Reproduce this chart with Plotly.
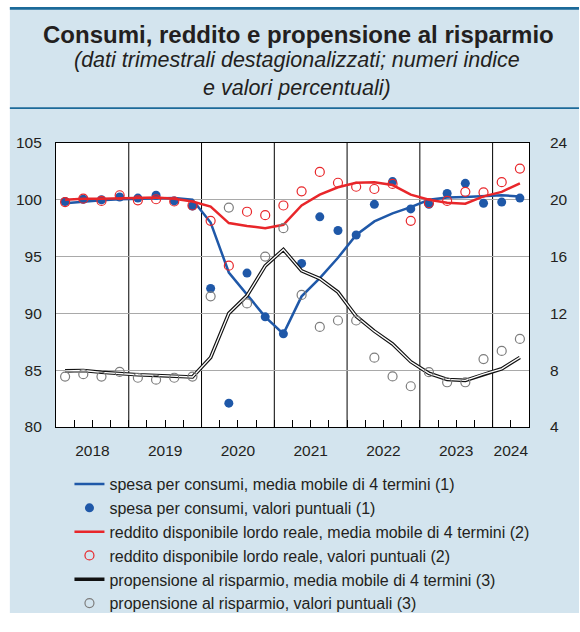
import plotly.graph_objects as go

# ---------------- data ----------------
quarters = ["2018Q1", "2018Q2", "2018Q3", "2018Q4",
            "2019Q1", "2019Q2", "2019Q3", "2019Q4",
            "2020Q1", "2020Q2", "2020Q3", "2020Q4",
            "2021Q1", "2021Q2", "2021Q3", "2021Q4",
            "2022Q1", "2022Q2", "2022Q3", "2022Q4",
            "2023Q1", "2023Q2", "2023Q3", "2023Q4",
            "2024Q1", "2024Q2"]

spesa_media_mobile = [99.7, 99.85, 99.95, 100.05, 100.1, 100.15, 100.15, 100.0,
                      98.0, 93.6, 91.7, 89.7, 88.2, 91.5, 93.1, 94.9,
                      96.9, 98.1, 98.8, 99.35, 100.0, 100.2, 100.25, 100.3,
                      100.4, 100.3]
spesa_puntuali = [99.85, 100.05, 100.0, 100.25, 100.15, 100.4, 99.9, 99.45,
                  92.2, 82.1, 93.55, 89.7, 88.2, 94.4, 98.5, 97.3,
                  96.9, 99.6, 101.6, 99.2, 99.6, 100.55, 101.45, 99.7,
                  99.8, 100.15]
reddito_media_mobile = [100.0, 100.1, 100.1, 100.15, 100.15, 100.2, 100.1, 99.85,
                        99.4, 97.95, 97.7, 97.5, 97.8, 99.5, 100.45, 101.1,
                        101.5, 101.55, 101.3, 100.45, 100.0, 99.75, 99.65, 100.3,
                        100.7, 101.45]
reddito_puntuali = [99.8, 100.1, 99.9, 100.4, 99.95, 100.05, 99.85, 99.5,
                    98.15, 94.2, 98.95, 98.65, 99.5, 100.75, 102.45, 101.5,
                    101.15, 100.95, 101.4, 98.15, 99.7, 99.9, 100.7, 100.65,
                    101.55, 102.75]
propensione_media_mobile = [7.95, 7.98, 7.85, 7.75, 7.68, 7.63, 7.6, 7.52,
                            8.9, 12.0, 13.25, 15.35, 16.5, 15.0, 14.45, 13.5,
                            11.8, 10.75, 9.85, 8.6, 7.78, 7.35, 7.28, 7.72,
                            8.1, 8.9]
propensione_puntuali = [7.55, 7.72, 7.55, 7.88, 7.47, 7.33, 7.47, 7.55,
                        13.2, 19.45, 12.7, 16.0, 18.0, 13.3, 11.05, 11.5,
                        11.5, 8.88, 7.56, 6.87, 7.86, 7.15, 7.15, 8.78,
                        9.36, 10.2]

year_labels = ["2018", "2019", "2020", "2021", "2022", "2023", "2024"]
left_ticks = [80, 85, 90, 95, 100, 105]
right_ticks = [4, 8, 12, 16, 20, 24]

# quarter -> numeric position (centre of the quarter)
x = [int(q[:4]) + (int(q[-1]) - 0.5) / 4 for q in quarters]
year_tickvals = [int(y) + 0.5 for y in year_labels[:-1]] + [2024.25]
year_bounds = [int(y) for y in year_labels[1:]]

# ---------------- styling ----------------
FONT = "Liberation Sans, Arial, Helvetica, sans-serif"
BLUE = "#1f58a8"
RED = "#e8262a"
GREY = "#7d7d7d"
LIGHT = "#d3e4ee"
DARK = "#1c6a99"
TXT = "#231f20"

W, H = 580, 632
L, R, T, B = 56, 548, 143, 433


def px(v):
    return (v - L) / (R - L)


def py(v):
    return (B - v) / (B - T)


fig = go.Figure()

fig.add_trace(go.Scatter(x=x, y=spesa_media_mobile, mode="lines",
                         line=dict(color=BLUE, width=2.5),
                         name="spesa per consumi, media mobile di 4 termini (1)"))
fig.add_trace(go.Scatter(x=x, y=spesa_puntuali, mode="markers",
                         marker=dict(color=BLUE, size=9),
                         name="spesa per consumi, valori puntuali (1)"))
fig.add_trace(go.Scatter(x=x, y=reddito_media_mobile, mode="lines",
                         line=dict(color=RED, width=2.5),
                         name="reddito disponibile lordo reale, media mobile di 4 termini (2)"))
fig.add_trace(go.Scatter(x=x, y=reddito_puntuali, mode="markers",
                         marker=dict(color=RED, size=9, symbol="circle-open",
                                     line=dict(width=1.2)),
                         name="reddito disponibile lordo reale, valori puntuali (2)"))
fig.add_trace(go.Scatter(x=x, y=propensione_media_mobile, mode="lines", yaxis="y2",
                         line=dict(color="#111111", width=3.6),
                         name="propensione al risparmio, media mobile di 4 termini (3)"))
fig.add_trace(go.Scatter(x=x, y=propensione_media_mobile, mode="lines", yaxis="y2",
                         line=dict(color="white", width=1.3), showlegend=False,
                         hoverinfo="skip"))
fig.add_trace(go.Scatter(x=x, y=propensione_puntuali, mode="markers", yaxis="y2",
                         marker=dict(color=GREY, size=9, symbol="circle-open",
                                     line=dict(width=1.2)),
                         name="propensione al risparmio, valori puntuali (3)"))

shapes = [
    # light-blue panel
    dict(type="rect", xref="paper", yref="paper", x0=px(8), x1=px(W + 20), y0=py(623), y1=py(4),
         fillcolor=LIGHT, line_width=0, layer="below"),
    # white plotting area
    dict(type="rect", xref="paper", yref="paper", x0=0, x1=1, y0=0, y1=1,
         fillcolor="white", line_width=0, layer="below"),
    # title rules
    dict(type="rect", xref="paper", yref="paper", x0=px(8), x1=px(W + 20), y0=py(7), y1=py(4),
         fillcolor=DARK, line_width=0, layer="below"),
    dict(type="rect", xref="paper", yref="paper", x0=px(8), x1=px(W + 20), y0=py(108.2), y1=py(106.6),
         fillcolor=DARK, line_width=0, layer="below"),
]
for yb in year_bounds:
    shapes.append(dict(type="line", xref="x", yref="paper", x0=yb, x1=yb, y0=0, y1=1,
                       line=dict(color="black", width=1), layer="below"))

annotations = [
    dict(text="<b>Consumi, reddito e propensione al risparmio</b>", xref="paper", yref="paper",
         x=px(308), y=py(32), xanchor="center", yanchor="middle", showarrow=False,
         font=dict(family=FONT, size=24, color=TXT)),
    dict(text="<i>(dati trimestrali destagionalizzati; numeri indice</i>", xref="paper", yref="paper",
         x=px(307), y=py(58), xanchor="center", yanchor="middle", showarrow=False,
         font=dict(family=FONT, size=21.5, color=TXT)),
    dict(text="<i>e valori percentuali)</i>", xref="paper", yref="paper",
         x=px(307), y=py(87), xanchor="center", yanchor="middle", showarrow=False,
         font=dict(family=FONT, size=21.5, color=TXT)),
]

fig.update_layout(
    width=W, height=H,
    margin=dict(l=L, r=W - R, t=T, b=H - B, pad=0),
    paper_bgcolor="white", plot_bgcolor="white",
    font=dict(family=FONT, size=15.5, color=TXT),
    showlegend=True,
    legend=dict(x=px(70), y=py(474), xanchor="left", yanchor="top",
                bgcolor="rgba(0,0,0,0)", font=dict(family=FONT, size=16, color=TXT),
                traceorder="normal", itemwidth=30),
    shapes=shapes,
    annotations=annotations,
    xaxis=dict(range=[2018, 2024.5], tickmode="array", tickvals=year_tickvals,
               ticktext=year_labels, ticks="inside", ticklen=7, tickcolor="black",
               tickwidth=1, showgrid=False, zeroline=False, showline=True, mirror=True,
               linecolor="black", linewidth=1.2, ticklabelstandoff=9,
               minor=dict(tick0=2018, dtick=0.25, ticks="inside", ticklen=7,
                          tickcolor="black", tickwidth=1, showgrid=False),
               tickfont=dict(size=15.5, color=TXT)),
    yaxis=dict(range=[80, 105], tickmode="array", tickvals=left_ticks, ticks="",
               showgrid=True, gridcolor="#a9a9a9", gridwidth=1, zeroline=False,
               showline=True, mirror=True, linecolor="black", linewidth=1.2,
               ticklabelstandoff=10, tickfont=dict(size=15.5, color=TXT)),
    yaxis2=dict(range=[4, 24], tickmode="array", tickvals=right_ticks, ticks="",
                overlaying="y", side="right", showgrid=False, zeroline=False,
                showline=False, ticklabelstandoff=20, tickfont=dict(size=15.5, color=TXT)),
)

fig.write_html("out.html", config={"displayModeBar": False},
               post_script="document.body.style.margin='0';document.body.style.overflow='hidden';")
